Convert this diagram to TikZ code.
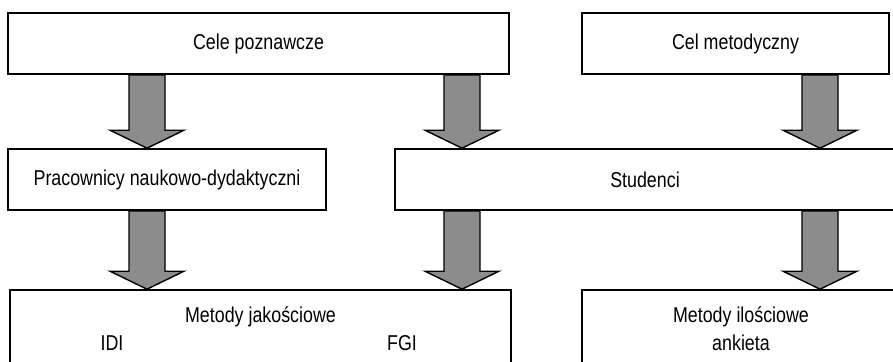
\documentclass[tikz,border=0pt]{standalone}
\usepackage{fontspec}
\setmainfont{Liberation Sans}[FakeStretch=0.83]
\usetikzlibrary{calc}

\begin{document}
\begin{tikzpicture}[x=1pt,y=-1pt,
      box/.style={draw,line width=1.6pt,fill=white,inner sep=0pt,
                  minimum height=61pt,font=\fontsize{21.5}{24}\selectfont},
      lbl/.style={inner sep=0pt,anchor=base,font=\fontsize{21.5}{24}\selectfont},
      blockarr/.style={draw,line width=1.4pt,fill=black!45,line join=miter}]
    \useasboundingbox (0,0) rectangle (893,361);
    \clip (0,0) rectangle (893,361);

    % goals
    \node[box,minimum width=501pt] (cele) at (258.5,43.5) {Cele poznawcze};
    \node[box,minimum width=307pt] (celmet) at (735.5,43.5) {Cel metodyczny};

    % groups
    \node[box,minimum width=318pt] (prac) at (167,179.5) {Pracownicy naukowo-dydaktyczni};
    \node[box,minimum width=500pt] (stud) at (645,179.5) {Studenci};

    % methods
    \node[box,minimum width=501pt,minimum height=80pt] (jak) at (260.5,330) {};
    \node[lbl] (jakt) at (260.5,322) {Metody jakościowe};
    \node[lbl] (idi) at (112,350) {IDI};
    \node[lbl] (fgi) at (402,350) {FGI};
    \node[box,minimum width=318pt,minimum height=80pt] (ilo) at (741,330) {};
    \node[lbl] (ilot) at (741,322) {Metody ilościowe};
    \node[lbl] (ank) at (741,350) {ankieta};

    % block arrows
    \coordinate (ca) at (147,0);
    \coordinate (cb) at (462,0);
    \coordinate (cc) at (820,0);
    \foreach \c/\a/\b in {ca/cele/prac,cb/cele/stud,cc/celmet/stud,
                          ca/prac/jak,cb/stud/jak,cc/stud/ilo}
      \draw[blockarr] let \p1=(\c |- \a.south), \p2=(\c |- \b.north) in
        (\x1-18pt,\y1) -- (\x1-18pt,\y2+18pt) -- (\x1-37pt,\y2+18pt) -- (\x1,\y2)
        -- (\x1+37pt,\y2+18pt) -- (\x1+18pt,\y2+18pt) -- (\x1+18pt,\y1) -- cycle;
  \end{tikzpicture}
\end{document}
